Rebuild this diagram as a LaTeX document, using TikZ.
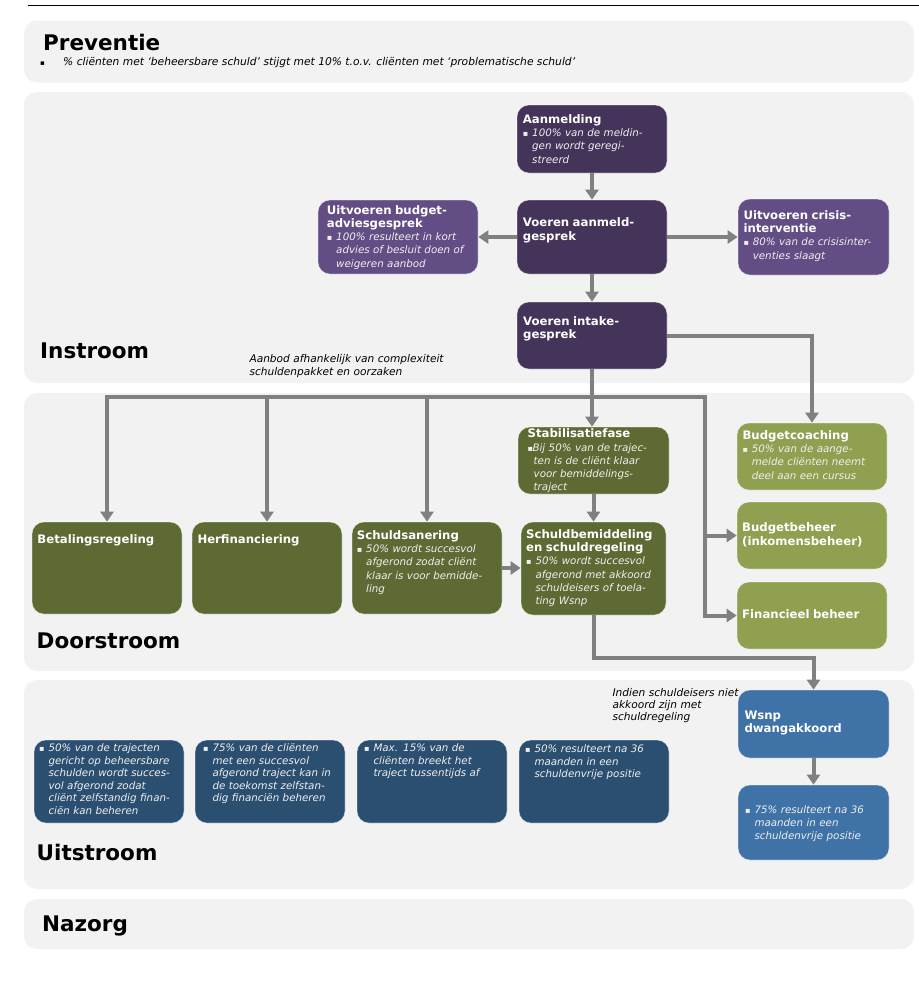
\documentclass[tikz,border=0pt]{standalone}
\usepackage{fontspec}
\setmainfont{DejaVu Sans}
\usetikzlibrary{arrows.meta}
\definecolor{secbg}{HTML}{F2F2F2}
\definecolor{dpur}{HTML}{44345A}
\definecolor{lpur}{HTML}{624E85}
\definecolor{dolv}{HTML}{5E6A34}
\definecolor{lolv}{HTML}{8FA050}
\definecolor{mblu}{HTML}{3F72A6}
\definecolor{nblu}{HTML}{2B4F70}
\definecolor{argr}{HTML}{808080}
\definecolor{btxt}{HTML}{EFEFEF}
\newcommand\ttl[1]{{\fontsize{11.7}{13.3}\selectfont\bfseries\upshape\color{white}#1}}
\newcommand\bu{\makebox[9.3pt][l]{\upshape\fontsize{8}{13.3}\selectfont ▪}}
\newcommand\ind{\hspace*{9.3pt}}
\tikzset{
  sect/.style={fill=secbg, rounded corners=13pt, inner sep=0pt, draw=none},
  box/.style={rounded corners=12pt, inner sep=0pt, draw=white, draw opacity=0.45, line width=0.7pt},
  pbox/.style={box, fill=dpur},
  lpbox/.style={box, fill=lpur},
  obox/.style={box, fill=dolv},
  lobox/.style={box, fill=lolv},
  bbox/.style={box, fill=mblu},
  nbox/.style={box, fill=nblu},
  tx/.style={anchor=base west, align=left, text width=148pt, inner sep=0pt, text=btxt, font=\fontsize{10.3}{13.3}\selectfont\itshape},
  utx/.style={tx, font=\fontsize{10.3}{12.5}\selectfont\itshape},
  head/.style={anchor=base west, inner sep=0pt, font=\fontsize{21.5}{26}\selectfont\bfseries},
  note/.style={anchor=base west, align=left, text width=200pt, inner sep=0pt, font=\fontsize{10.6}{12.3}\selectfont\itshape},
  arr/.style={draw=argr, line width=4pt, -{Triangle[width=13pt,length=10pt]}},
  ln/.style={draw=argr, line width=4pt},
}
\begin{document}
\begin{tikzpicture}[x=1pt,y=-1pt]
\useasboundingbox (0,0) rectangle (919,986);
\fill[white] (0,0) rectangle (919,986);
\draw[line width=1.3pt] (28,5.5) -- (919,5.5);

% sections
\node[sect, minimum width=890, minimum height=62] (sPrev) at (469,51.5) {};
\node[sect, minimum width=890, minimum height=291] (sIn) at (469,237.5) {};
\node[sect, minimum width=890, minimum height=278] (sDoor) at (469,532) {};
\node[sect, minimum width=890, minimum height=209] (sUit) at (469,784.5) {};
\node[sect, minimum width=890, minimum height=50] (sNaz) at (469,924) {};

\node[head] (hPrev) at (43,50) {Preventie};
\node[head] (hIn) at (40,358) {Instroom};
\node[head] (hDoor) at (36.5,648) {Doorstroom};
\node[head] (hUit) at (36.5,860) {Uitstroom};
\node[head] (hNaz) at (42,931) {Nazorg};

\node[anchor=base west, inner sep=0pt, font=\fontsize{7}{9}\selectfont] (pBul) at (40,65) {▪};
\node[anchor=base west, inner sep=0pt, font=\fontsize{10.7}{12}\selectfont\itshape] (pTxt) at (63,65) {\% cliënten met ‘beheersbare schuld’ stijgt met 10\% t.o.v. cliënten met ‘problematische schuld’};

% boxes
\node[pbox, minimum width=150, minimum height=68] (aan) at (592,139) {};
\node[pbox, minimum width=150, minimum height=74] (vag) at (592,237) {};
\node[lpbox, minimum width=160, minimum height=74] (bud) at (398,237) {};
\node[lpbox, minimum width=151, minimum height=76] (cris) at (813.5,237) {};
\node[pbox, minimum width=150, minimum height=67] (intk) at (592,335.5) {};
\node[obox, minimum width=151, minimum height=67] (stab) at (593.5,460.5) {};
\node[obox, minimum width=150, minimum height=92] (bet) at (107,568) {};
\node[obox, minimum width=150, minimum height=92] (her) at (267,568) {};
\node[obox, minimum width=150, minimum height=92] (san) at (427,568) {};
\node[obox, minimum width=145, minimum height=93] (sbm) at (593.5,568.5) {};
\node[lobox, minimum width=150, minimum height=67] (bc) at (812,456.5) {};
\node[lobox, minimum width=150, minimum height=67] (bb) at (812,535.5) {};
\node[lobox, minimum width=150, minimum height=67] (fin) at (812,615.5) {};
\node[bbox, minimum width=151, minimum height=68] (wsnp) at (813.5,724) {};
\node[bbox, minimum width=151, minimum height=75] (w75) at (813.5,822.5) {};
\node[nbox, minimum width=150, minimum height=83] (u1) at (109,781.5) {};
\node[nbox, minimum width=150, minimum height=83] (u2) at (270,781.5) {};
\node[nbox, minimum width=150, minimum height=83] (u3) at (432,781.5) {};
\node[nbox, minimum width=150, minimum height=83] (u4) at (594,781.5) {};

% texts
\node[tx] (aanT) at (522.7,123.3) {\ttl{Aanmelding}\\ \bu 100\% van de meldin-\\ \ind gen wordt geregi-\\ \ind streerd};
\node[tx] (vagT) at (522.7,226.7) {\ttl{Voeren aanmeld-}\\ \ttl{gesprek}};
\node[tx] (budT) at (326.7,214) {\ttl{Uitvoeren budget-}\\ \ttl{adviesgesprek}\\ \bu 100\% resulteert in kort\\ \ind advies of besluit doen of\\ \ind weigeren aanbod};
\node[tx] (crisT) at (743.3,219.3) {\ttl{Uitvoeren crisis-}\\ \ttl{interventie}\\ \bu 80\% van de crisisinter-\\ \ind venties slaagt};
\node[tx] (intkT) at (523,325) {\ttl{Voeren intake-}\\ \ttl{gesprek}};
\node[tx] (stabT) at (527.5,437.7) {\ttl{Stabilisatiefase}\\ \makebox[4.8pt][l]{\upshape\fontsize{8}{13.3}\selectfont ▪}Bij 50\% van de trajec-\\ \hspace*{6pt}ten is de cliënt klaar\\ \hspace*{6pt}voor bemiddelings-\\ \hspace*{6pt}traject};
\node[tx] (betT) at (37.3,543) {\ttl{Betalingsregeling}};
\node[tx] (herT) at (197.3,543) {\ttl{Herfinanciering}};
\node[tx] (sanT) at (356.7,539.3) {\ttl{Schuldsanering}\\ \bu 50\% wordt succesvol\\ \ind afgerond zodat cliënt\\ \ind klaar is voor bemidde-\\ \ind ling};
\node[tx] (sbmT) at (526,538.3) {\ttl{Schuldbemiddeling}\\ \ttl{en schuldregeling}\\ \bu 50\% wordt succesvol\\ \ind afgerond met akkoord\\ \ind schuldeisers of toela-\\ \ind ting Wsnp};
\node[tx] (bcT) at (742.3,439.3) {\ttl{Budgetcoaching}\\ \bu 50\% van de aange-\\ \ind melde cliënten neemt\\ \ind deel aan een cursus};
\node[tx] (bbT) at (742,531.7) {\ttl{Budgetbeheer}\\ \ttl{(inkomensbeheer)}};
\node[tx] (finT) at (742,618) {\ttl{Financieel beheer}};
\node[tx] (wsnpT) at (744.3,719.3) {\ttl{Wsnp}\\ \ttl{dwangakkoord}};
\node[tx] (w75T) at (745,813.3) {\bu 75\% resulteert na 36\\ \ind maanden in een\\ \ind schuldenvrije positie};
\node[utx] (u1T) at (39,751.7) {\bu 50\% van de trajecten\\ \ind gericht op beheersbare\\ \ind schulden wordt succes-\\ \ind vol afgerond zodat\\ \ind cliënt zelfstandig finan-\\ \ind ciën kan beheren};
\node[utx] (u2T) at (203,751.7) {\bu 75\% van de cliënten\\ \ind met een succesvol\\ \ind afgerond traject kan in\\ \ind de toekomst zelfstan-\\ \ind dig financiën beheren};
\node[utx] (u3T) at (364,751.7) {\bu Max. 15\% van de\\ \ind cliënten breekt het\\ \ind traject tussentijds af};
\node[utx] (u4T) at (525,752.7) {\bu 50\% resulteert na 36\\ \ind maanden in een\\ \ind schuldenvrije positie};

\node[note] (n1) at (249.3,362.7) {Aanbod afhankelijk van complexiteit\\ schuldenpakket en oorzaken};
\node[note] (n2) at (612.3,696) {Indien schuldeisers niet\\ akkoord zijn met\\ schuldregeling};

% connectors
\coordinate (split) at (592,397);
\coordinate (rj) at (705,397);
\coordinate (jw) at (592,658);
\draw[arr] (aan.south) -- (vag.north);
\draw[arr] (vag.west) -- (bud.east);
\draw[arr] (vag.east) -- (cris.west);
\draw[arr] (vag.south) -- (intk.north);
\draw[arr] (intk.south) -- (intk.south |- stab.north);
\draw[arr] (split) -| (bet.north);
\draw[arr] (split) -| (her.north);
\draw[arr] (split) -| (san.north);
\draw[arr] (split) -- (rj) |- (bb.west);
\draw[arr] (rj) |- (fin.west);
\draw[arr] (intk.east) -| (bc.north);
\draw[arr] (san.east) -- (san.east -| sbm.west);
\draw[arr] (stab.south) -- (sbm.north);
\draw[arr] (sbm.south) -- (sbm.south |- jw) -| (wsnp.north);
\draw[arr] (wsnp.south) -- (w75.north);
\end{tikzpicture}
\end{document}
